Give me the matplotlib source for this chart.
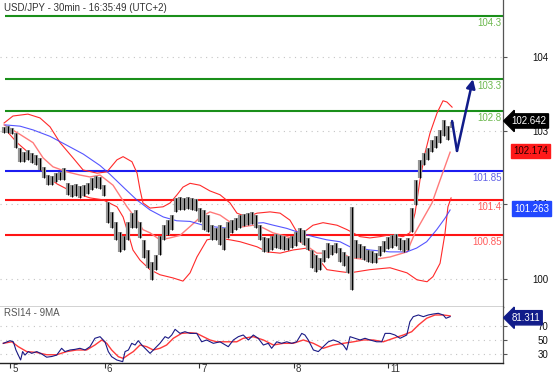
import matplotlib
matplotlib.use("Agg")
import matplotlib.pyplot as plt
import matplotlib.transforms as mtransforms
import numpy as np

plt.rcParams["font.family"] = ["Liberation Sans", "DejaVu Sans"]

TITLE = "USD/JPY - 30min - 16:35:49 (UTC+2)"
RSI_TITLE = "RSI14 - 9MA"

# hourly high/low, from the 5th (early session) to 16:30 on the 11th
bar_high = [102.55, 102.56, 102.53, 102.45, 102.22, 102.15, 102.18, 102.14, 102.11, 102.06,
            101.92, 101.79, 101.78, 101.82, 101.84, 101.90, 101.67, 101.63, 101.65, 101.62,
            101.63, 101.67, 101.74, 101.78, 101.76, 101.63, 101.37, 101.21, 101.05, 100.89,
            100.83, 101.05, 101.19, 101.24, 101.05, 100.77, 100.61, 100.42, 100.53, 100.83,
            101.00, 101.08, 101.16, 101.43, 101.44, 101.43, 101.44, 101.43, 101.41, 101.27,
            101.24, 101.16, 101.00, 100.96, 101.00, 100.96, 101.05, 101.08, 101.11, 101.16,
            101.18, 101.19, 101.21, 101.16, 101.00, 100.81, 100.80, 100.83, 100.86, 100.85,
            100.83, 100.80, 100.83, 100.89, 100.96, 100.93, 100.80, 100.61, 100.53, 100.48,
            100.61, 100.72, 100.69, 100.72, 100.64, 100.58, 100.52, 101.29, 100.77, 100.70,
            100.67, 100.61, 100.60, 100.56, 100.67, 100.75, 100.81, 100.85, 100.86, 100.80,
            100.77, 100.80, 101.27, 101.71, 102.03, 102.14, 102.22, 102.34, 102.41, 102.50,
            102.66, 102.56, 102.63]
bar_low = [102.45, 102.45, 102.44, 102.22, 102.00, 102.00, 102.03, 101.98, 101.95, 101.87,
           101.74, 101.63, 101.63, 101.68, 101.71, 101.71, 101.48, 101.44, 101.46, 101.43,
           101.46, 101.49, 101.56, 101.59, 101.57, 101.46, 101.04, 100.96, 100.77, 100.58,
           100.61, 100.77, 100.96, 100.96, 100.80, 100.48, 100.33, 100.14, 100.30, 100.53,
           100.77, 100.85, 100.93, 101.21, 101.24, 101.24, 101.26, 101.24, 101.22, 101.05,
           100.93, 100.89, 100.77, 100.77, 100.69, 100.61, 100.80, 100.88, 100.93, 100.96,
           100.99, 101.00, 101.02, 100.96, 100.77, 100.58, 100.58, 100.61, 100.64, 100.63,
           100.61, 100.61, 100.64, 100.67, 100.74, 100.69, 100.61, 100.33, 100.26, 100.30,
           100.42, 100.48, 100.53, 100.56, 100.42, 100.36, 100.25, 99.98, 100.48, 100.48,
           100.45, 100.42, 100.41, 100.41, 100.52, 100.58, 100.63, 100.64, 100.67, 100.61,
           100.58, 100.61, 100.89, 101.32, 101.74, 101.95, 102.03, 102.15, 102.22, 102.30,
           102.41, 102.34, 102.53]
first_bar, last_bar = -3, 224.4   # 30-min bar index (0 = start of the 5th)

# bollinger bands and slow moving average (bar index, price)
bb_up_x = [-3.0, 1.5, 9.1, 15.2, 20.3, 25.4, 32.0, 37.1, 44.2, 49.2, 54.3, 57.4, 61.9, 64.5,
           66.0, 67.5, 71.1, 77.7, 81.2, 84.8, 87.8, 91.4, 96.4, 101.5, 106.6, 111.7, 115.2,
           120.3, 125.4, 132.0, 137.1, 142.1, 145.7, 148.7, 153.8, 158.9, 166.0, 171.1, 177.7,
           182.7, 187.8, 192.9, 199.5, 203.0, 205.6, 208.1, 210.7, 213.2, 216.8, 219.8, 221.8,
           224.4]
bb_up = [102.61, 102.72, 102.75, 102.69, 102.55, 102.30, 102.06, 101.87, 101.82, 101.84,
         102.03, 102.08, 102.00, 101.82, 101.56, 101.35, 101.27, 101.29, 101.35, 101.48,
         101.60, 101.66, 101.63, 101.54, 101.48, 101.35, 101.19, 101.13, 101.19, 101.21,
         101.19, 101.08, 100.89, 100.88, 101.00, 101.04, 101.00, 100.93, 100.82, 100.80,
         100.82, 100.85, 100.82, 100.88, 101.19, 101.71, 102.14, 102.45, 102.77, 102.96,
         102.94, 102.86]
bb_mid_x = [-3.0, 5.1, 11.7, 16.8, 21.8, 28.9, 35.5, 40.6, 45.7, 52.3, 54.8, 59.4, 64.5, 67.5,
            71.1, 76.1, 81.2, 86.3, 91.4, 96.4, 101.5, 106.6, 111.7, 116.8, 123.4, 128.4,
            133.5, 140.6, 145.7, 150.8, 155.8, 160.9, 167.5, 172.6, 182.7, 192.9, 201.5,
            205.6, 214.2, 218.3, 223.4]
bb_mid = [102.58, 102.43, 102.30, 102.06, 101.92, 101.84, 101.79, 101.76, 101.79, 101.63,
          101.51, 101.29, 101.08, 100.93, 100.88, 100.77, 100.80, 100.84, 100.98, 101.12,
          101.21, 101.16, 101.05, 100.97, 101.00, 100.96, 100.88, 100.82, 100.77, 100.67,
          100.56, 100.56, 100.58, 100.49, 100.45, 100.50, 100.58, 100.88, 101.35, 101.71,
          102.15]
bb_low_x = [-3.0, 3.6, 11.7, 17.8, 23.9, 32.0, 40.6, 47.2, 54.3, 57.4, 59.9, 62.4, 66.0, 71.1,
            76.1, 82.7, 87.8, 91.4, 94.9, 100.0, 105.1, 111.7, 116.8, 125.4, 130.5, 137.1,
            143.7, 150.8, 155.8, 160.9, 167.5, 172.6, 182.7, 192.9, 201.5, 206.6, 211.7,
            214.7, 218.3, 220.8, 222.3, 223.9]
bb_low = [102.53, 102.30, 102.08, 101.79, 101.65, 101.52, 101.43, 101.40, 101.29, 101.13,
          100.88, 100.61, 100.45, 100.30, 100.22, 100.17, 100.12, 100.25, 100.50, 100.77,
          100.80, 100.77, 100.74, 100.66, 100.58, 100.56, 100.61, 100.64, 100.50, 100.30,
          100.27, 100.25, 100.30, 100.33, 100.25, 100.14, 100.11, 100.19, 100.40, 100.87,
          101.29, 101.43]
ma_x = [-2.5, 5.1, 11.8, 20.3, 28.8, 37.2, 45.7, 50.8, 58.5, 64.3, 71.1, 77.8, 84.6, 91.4,
        98.1, 104.9, 111.7, 116.8, 123.5, 128.6, 133.7, 140.5, 147.2, 154.0, 160.8, 167.5,
        172.6, 182.7, 192.9, 201.4, 206.4, 211.5, 216.6, 220.8, 223.4]
ma = [102.58, 102.56, 102.50, 102.40, 102.26, 102.12, 101.94, 101.80, 101.57, 101.40,
      101.24, 101.13, 101.07, 101.06, 101.00, 100.97, 100.95, 100.99, 101.03, 101.04,
      101.00, 100.95, 100.88, 100.82, 100.77, 100.74, 100.66, 100.61, 100.58, 100.58,
      100.64, 100.74, 100.93, 101.11, 101.24]

# key levels
level_values = [104.3, 103.3, 102.8, 101.85, 101.4, 100.85]
level_labels = ["104.3", "103.3", "102.8", "101.85", "101.4", "100.85"]
level_kinds = ["res", "res", "res", "pivot", "sup", "sup"]

# expected path: pull-back, then up to the target
path_x = [224.4, 226.9, 235.0]
path_y = [102.64, 102.17, 103.30]

last_price = 102.642
pullback_price = 102.174
ma_last = 101.263

# price scale as printed on the source chart
price_ticks = [103.65, 102.48, 101.33, 100.15]
price_tick_labels = ["104", "103", "101", "100"]

# RSI(14) and its 9-period MA
rsi_x = [-3.4, 0.0, 1.7, 3.0, 4.2, 5.4, 6.4, 7.6, 9.3, 11.0, 13.6, 16.1, 18.6, 21.2, 23.7,
         26.2, 27.9, 30.5, 33.0, 35.5, 38.1, 40.6, 43.1, 45.7, 48.2, 49.9, 51.6, 54.2, 57.2,
         58.4, 60.1, 61.8, 63.5, 65.1, 66.9, 69.4, 71.1, 73.6, 76.1, 78.7, 80.4, 82.1, 83.8,
         86.3, 88.8, 91.4, 94.8, 97.3, 99.8, 103.2, 106.6, 110.8, 113.4, 115.9, 118.4, 121.0,
         123.5, 126.0, 128.6, 131.1, 132.8, 135.4, 137.9, 140.5, 143.0, 145.5, 148.1, 149.7,
         151.4, 154.0, 156.5, 159.0, 161.6, 164.1, 166.7, 169.2, 170.9, 172.6, 175.1, 177.7,
         180.2, 182.7, 186.1, 188.7, 190.4, 192.9, 195.4, 198.0, 199.7, 201.4, 203.0, 204.7,
         207.3, 209.8, 212.3, 214.9, 217.4, 219.9, 221.3, 223.4]
rsi = [44.8, 48.6, 47, 35.3, 28, 21, 33, 28, 33, 30.5, 33, 29.6, 25, 26, 28, 37.7, 33, 35.3,
       36.2, 37.7, 35.3, 40, 52, 54.3, 47, 33, 25.7, 21, 18.6, 33, 35.3, 44.8, 42.4, 48.6,
       42.4, 35.3, 30.5, 37.7, 44.8, 54.3, 52, 56.7, 64.8, 59, 61.4, 59, 59, 47, 49.6, 44.8,
       47, 40, 49.6, 54.3, 56.7, 49.6, 56.7, 52, 42.4, 44.8, 37.7, 47, 44.8, 47, 44.8, 47, 59,
       56.7, 49.6, 35.3, 33, 40, 47, 49.6, 47, 42.4, 35.3, 54.3, 52, 49.6, 52, 49.6, 47, 47,
       59, 59, 56.7, 52, 54.3, 56.7, 75.7, 82.9, 85.3, 82.9, 85.3, 86.7, 87.7, 85.3, 80.6, 82.9]
rsi_ma_x = [-3.4, 0.9, 4.2, 8.5, 13.6, 18.6, 23.7, 28.8, 33.8, 38.9, 43.1, 46.6, 49.1, 51.6,
            55.0, 57.5, 60.1, 62.6, 66.0, 69.4, 72.7, 76.1, 79.5, 82.9, 87.1, 91.4, 94.8, 98.1,
            101.5, 104.9, 110.0, 115.1, 118.4, 123.5, 128.6, 133.7, 138.7, 143.8, 148.9, 154.0,
            159.0, 164.1, 169.2, 174.3, 179.4, 184.4, 189.5, 194.6, 199.7, 203.9, 207.3, 211.5,
            215.7, 219.9, 223.4]
rsi_ma = [44.8, 47, 40, 33, 31.7, 28.5, 28.5, 33, 35.3, 35.3, 42.4, 49.6, 44.8, 35.3, 25.7,
          23.3, 28.5, 33, 42.4, 40, 35.3, 37.7, 42.4, 52, 59, 60, 59, 54.3, 49.6, 47, 47, 47,
          52, 54.3, 49.6, 42.4, 44.8, 44.8, 49.6, 44.8, 37.7, 42.4, 44.8, 47, 49.6, 49.6, 47,
          52, 56.7, 61.4, 70.9, 80.6, 85.3, 85.3, 84]
rsi_last = 81.311
rsi_ticks = [30, 50, 70]

day_ticks = [0, 48, 96, 144, 192]
day_labels = ["5", "6", "7", "8", "11"]

LEVEL_COLORS = {"res": "#1a8f1a", "pivot": "#1c1cf0", "sup": "#ff1414"}
LABEL_COLORS = {"res": "#6cb84e", "pivot": "#6262e6", "sup": "#ff5c5c"}
NAVY = "#111c8a"

fig = plt.figure(figsize=(5.54, 3.74), dpi=100)
ax = fig.add_axes([0, 1 - 307 / 374, 503 / 554, 307 / 374])
ax_rsi = fig.add_axes([0, 1 - 363 / 374, 503 / 554, 56 / 374])

xlim = (-5.08, 250.25)
for a in (ax, ax_rsi):
    a.set_xlim(*xlim)
    a.spines["left"].set_visible(False)
    a.spines["top"].set_visible(False)
    a.spines["right"].set_color("#555555")
    a.spines["right"].set_linewidth(0.9)
    a.spines["bottom"].set_color("#222222")
    a.spines["bottom"].set_linewidth(1.0)
    a.yaxis.tick_right()

# ---- price panel
ax.set_ylim(99.712, 104.547)
ax.set_yticks(price_ticks)
ax.set_yticklabels(price_tick_labels)
ax.tick_params(axis="y", length=3, width=0.8, color="#555555", pad=29.5,
               labelsize=7, labelcolor="#111111")
for lab in ax.get_yticklabels():
    lab.set_ha("right")
ax.set_xticks([])
ax.grid(axis="y", color="#c4c4c4", linestyle=(0, (1, 4)), linewidth=0.8)

bar_x = np.linspace(first_bar, last_bar, len(bar_high))
ax.vlines(bar_x, bar_low, bar_high, color="#959595", lw=3.0, zorder=3)
ax.vlines(bar_x, bar_low, bar_high, color="#000000", lw=0.75, zorder=3.1)

ax.plot(bb_up_x, bb_up, color="#ff2a2a", lw=0.8, zorder=2.6)
ax.plot(bb_low_x, bb_low, color="#ff2a2a", lw=0.8, zorder=2.6)
ax.plot(bb_mid_x, bb_mid, color="#ff7a7a", lw=1.0, zorder=2.6)
ax.plot(ma_x, ma, color="#3838ff", lw=0.8, alpha=0.85, zorder=2.7)

for val, lab, kind in zip(level_values, level_labels, level_kinds):
    ax.hlines(val, -2.5, xlim[1], color=LEVEL_COLORS[kind], lw=1.5, zorder=2.5)
    ax.annotate(lab, xy=(1, val), xycoords=ax.get_yaxis_transform(),
                xytext=(-1.2, -5.2), textcoords="offset points",
                ha="right", va="center", fontsize=7, color=LABEL_COLORS[kind])

ax.plot(path_x[:2], path_y[:2], color=NAVY, lw=1.8, zorder=4, solid_capstyle="round")
ax.annotate("", xy=(path_x[2], path_y[2]), xytext=(path_x[1], path_y[1]),
            arrowprops=dict(arrowstyle="-|>", color=NAVY, lw=1.8, mutation_scale=13,
                            shrinkA=0, shrinkB=0), zorder=4)

ax.text(4 / 503, 1 - 8 / 307, TITLE, transform=ax.transAxes, ha="left", va="center",
        fontsize=7, color="#333333")

ytrans = ax.get_yaxis_transform()
ax.annotate(f"{last_price:.3f}", xy=(1, last_price), xycoords=ytrans,
            xytext=(6, 0), textcoords="offset points", ha="left", va="center",
            fontsize=7, color="white", annotation_clip=False, zorder=6,
            bbox=dict(boxstyle="larrow,pad=0.22", fc="#000000", ec="#000000"))
ax.annotate(f"{pullback_price:.3f}", xy=(1, pullback_price), xycoords=ytrans,
            xytext=(7.5, 0), textcoords="offset points", ha="left", va="center",
            fontsize=7, color="#2a0000", annotation_clip=False, zorder=6,
            bbox=dict(boxstyle="square,pad=0.22", fc="#ff1a1a", ec="#ff1a1a"))
ax.annotate(f"{ma_last:.3f}", xy=(1, ma_last), xycoords=ytrans,
            xytext=(8, 0), textcoords="offset points", ha="left", va="center",
            fontsize=7, color="white", annotation_clip=False, zorder=6,
            bbox=dict(boxstyle="square,pad=0.22", fc="#2248ff", ec="#2248ff"))

# ---- RSI panel
ax_rsi.set_ylim(16.7, 96.7)
ax_rsi.set_yticks(rsi_ticks)
ax_rsi.tick_params(axis="y", length=3, width=0.8, color="#555555", pad=29.5,
                   labelsize=7, labelcolor="#111111")
for lab in ax_rsi.get_yticklabels():
    lab.set_ha("right")
ax_rsi.grid(axis="y", color="#c4c4c4", linestyle=(0, (1, 4)), linewidth=0.8)
ax_rsi.spines["bottom"].set_linewidth(1.0)

ax_rsi.plot(rsi_ma_x, rsi_ma, color="#ff3a3a", lw=1.0)
ax_rsi.plot(rsi_x, rsi, color="#1a1a85", lw=0.8)

ax_rsi.text(4 / 503, 0.89, RSI_TITLE, transform=ax_rsi.transAxes, ha="left", va="center",
            fontsize=7, color="#555555")
ax_rsi.annotate(f"{rsi_last:.3f}", xy=(1, rsi_last), xycoords=ax_rsi.get_yaxis_transform(),
                xytext=(6, 0), textcoords="offset points", ha="left", va="center",
                fontsize=7, color="white", annotation_clip=False, zorder=6,
                bbox=dict(boxstyle="larrow,pad=0.22", fc=NAVY, ec=NAVY))

ax_rsi.set_xticks(day_ticks)
ax_rsi.set_xticklabels(day_labels)
ax_rsi.tick_params(axis="x", length=3.5, width=0.8, color="#333333", pad=-2.5,
                   labelsize=7, labelcolor="#333333")
shift = mtransforms.ScaledTranslation(1.5 / 72, 0, fig.dpi_scale_trans)
for lab in ax_rsi.get_xticklabels():
    lab.set_ha("left")
    lab.set_transform(lab.get_transform() + shift)

fig.savefig("out.png", dpi=100)
